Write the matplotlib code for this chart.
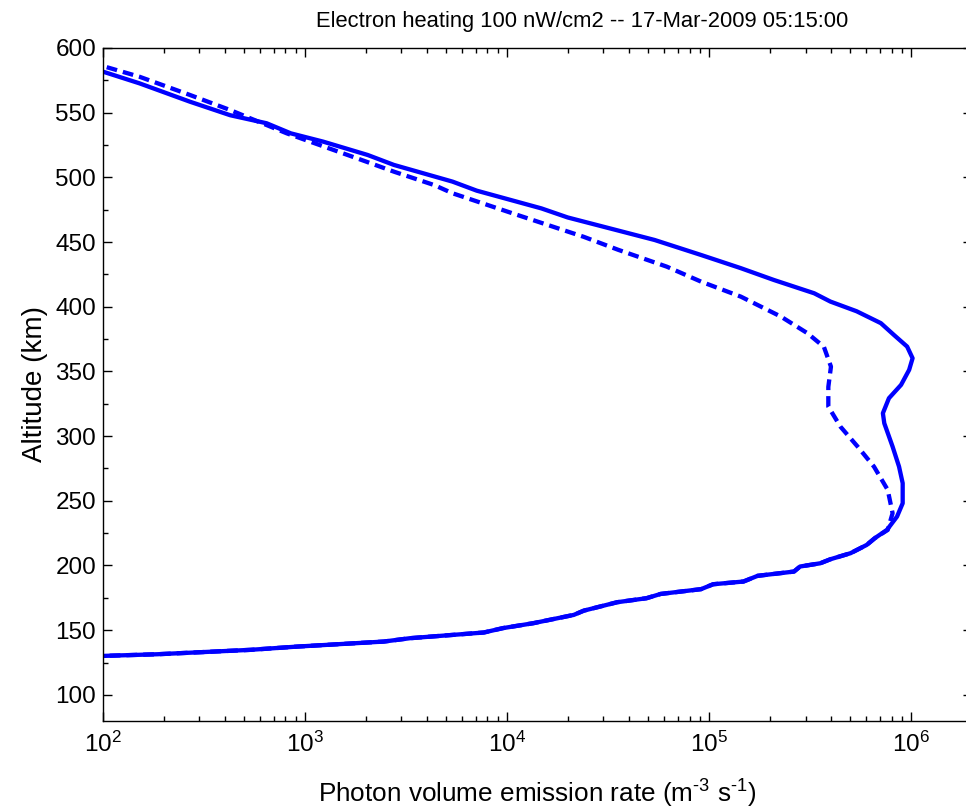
import matplotlib
matplotlib.use('Agg')
import matplotlib.pyplot as plt
from matplotlib.ticker import LogLocator, MultipleLocator
import numpy as np

plt.rcParams['font.family'] = ['Liberation Sans', 'DejaVu Sans']
plt.rcParams['mathtext.fontset'] = 'custom'
plt.rcParams['mathtext.rm'] = 'Liberation Sans'
plt.rcParams['mathtext.it'] = 'Liberation Sans:italic'

# solid profile: log10(rate), altitude (km)
solid_log = [1.95, 2.00, 2.27, 2.73, 2.96, 3.39, 3.52, 3.885, 3.98, 4.13, 4.33, 4.38,
             4.545, 4.69, 4.76, 4.96, 5.02, 5.17, 5.24, 5.42, 5.45, 5.55, 5.60, 5.70,
             5.78, 5.82, 5.88, 5.93, 5.958, 5.958, 5.94, 5.908, 5.867, 5.86, 5.89,
             5.95, 5.99, 6.007, 5.98, 5.916, 5.85, 5.73, 5.60, 5.52, 5.32, 5.157, 4.96, 4.73,
             4.30, 4.17, 3.85, 3.73, 3.44, 3.31, 3.09, 2.93, 2.81, 2.63, 2.43, 2.18,
             2.00, 1.95]
solid_alt = [129.5, 130.1, 131.4, 134.8, 137.3, 141.2, 143.8, 148.2, 151.6, 155.4, 161.8, 165.1,
             171.6, 174.7, 178.0, 181.7, 185.5, 187.6, 192.0, 195.3, 199.2, 201.7, 204.8, 209.5,
             215.9, 221.1, 227.5, 237.8, 248.1, 263.6, 276.4, 291.9, 309.9, 317.7, 329.3,
             339.6, 351.2, 360.2, 369.2, 378.0, 387.3, 396.5, 404.0, 410.4, 420.7, 429.8, 440.0, 451.6,
             469.0, 476.0, 489.7, 496.7, 509.6, 517.3, 527.6, 534.0, 541.8, 548.0, 558.5, 572.7,
             581.7, 584.0]

# dashed profile
dash_log = [1.95, 2.00, 2.27, 2.73, 2.96, 3.39, 3.52, 3.885, 3.98, 4.13, 4.33, 4.38,
            4.545, 4.69, 4.76, 4.96, 5.02, 5.17, 5.24, 5.42, 5.45, 5.55, 5.60, 5.70,
            5.78, 5.82, 5.884, 5.908, 5.884, 5.816, 5.735, 5.65, 5.59, 5.59, 5.603,
            5.568, 5.487, 5.355, 5.157, 4.96, 4.79, 4.55, 4.38, 4.05, 3.73, 3.64, 3.44,
            3.27, 2.91, 2.63, 2.43, 2.18, 2.00, 1.95]
dash_alt = [129.5, 130.1, 131.4, 134.8, 137.3, 141.2, 143.8, 148.2, 151.6, 155.4, 161.8, 165.1,
            171.6, 174.7, 178.0, 181.7, 185.5, 187.6, 192.0, 195.3, 199.2, 201.7, 204.8, 209.5,
            215.9, 221.1, 227.5, 240.4, 258.4, 276.4, 291.9, 307.3, 322.8, 338.0, 353.7,
            369.0, 379.5, 392.4, 407.8, 419.4, 431.0, 444.0, 454.0, 471.0, 487.7, 494.0, 504.4,
            514.0, 534.0, 552.0, 563.7, 577.8, 586.0, 588.0]

solid_x = 10 ** np.array(solid_log)
dash_x = 10 ** np.array(dash_log)

fig = plt.figure(figsize=(9.66, 8.09), dpi=100)
ax = fig.add_axes([0.1066, 0.1091, 0.8996, 0.8316])

ax.plot(solid_x, solid_alt, color='#0000ff', lw=3.1, solid_joinstyle='round')
ax.plot(dash_x, dash_alt, color='#0000ff', lw=3.1, linestyle=(0, (2.5, 1.4)),
        dash_capstyle='butt')

ax.set_xscale('log')
ax.set_xlim(1e2, 2e6)
ax.set_ylim(80, 600)
ax.xaxis.set_major_locator(LogLocator(base=10, numticks=10))
ax.xaxis.set_minor_locator(LogLocator(base=10, subs=np.arange(2, 10), numticks=20))
ax.yaxis.set_major_locator(MultipleLocator(50))
ax.yaxis.set_minor_locator(MultipleLocator(25))

ax.tick_params(which='both', direction='in', top=True, right=True, width=1.0, colors='black')
ax.tick_params(which='major', length=6.5, labelsize=17.5)
ax.tick_params(axis='x', which='major', pad=8)
ax.tick_params(axis='y', which='major', pad=5)
ax.tick_params(which='minor', length=3.5)
for s in ax.spines.values():
    s.set_linewidth(1.0)

ax.set_title('Electron heating 100 nW/cm2 -- 17-Mar-2009 05:15:00', fontsize=15.8, pad=15,
             x=0.551)
ax.set_xlabel(r'Photon volume emission rate (m$^{\text{-3}}$ s$^{\text{-1}}$)', fontsize=18.8, labelpad=15)
ax.set_ylabel('Altitude (km)', fontsize=20, labelpad=5)

fig.savefig('out.png', dpi=100)
